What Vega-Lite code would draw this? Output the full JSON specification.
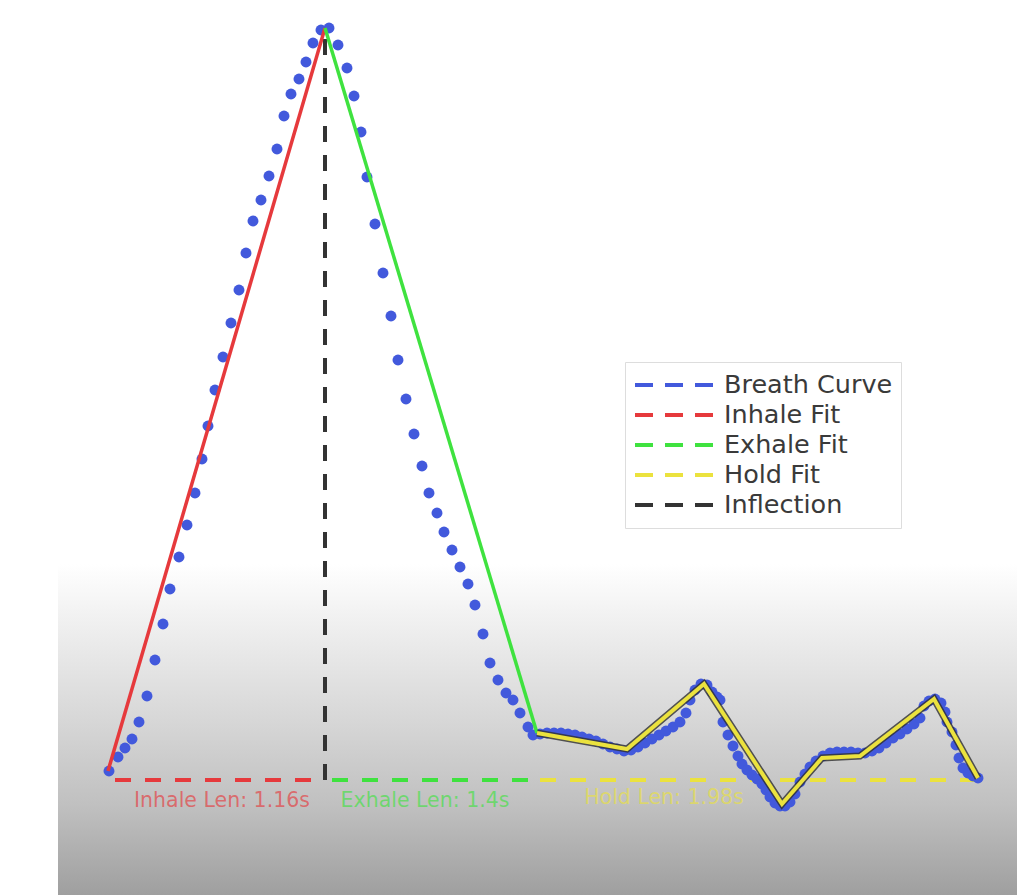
{
  "$schema": "https://vega.github.io/schema/vega-lite/v6.json",
  "width": 959,
  "height": 895,
  "padding": {"left": 58, "right": 12, "top": 0, "bottom": 0},
  "autosize": {"type": "none"},
  "background": "white",
  "view": {
    "stroke": null,
    "fill": {
      "gradient": "linear", "x1": 0, "y1": 0, "x2": 0, "y2": 1,
      "stops": [
        {"offset": 0, "color": "#ffffff"},
        {"offset": 0.63, "color": "#ffffff"},
        {"offset": 0.69, "color": "#f1f1f1"},
        {"offset": 0.8, "color": "#d8d8d8"},
        {"offset": 0.9, "color": "#c0c0c0"},
        {"offset": 1, "color": "#9f9f9f"}
      ]
    }
  },
  "datasets": {
    "dots": [
      {"t":109,"v":124},{"t":118,"v":138},{"t":125,"v":147},{"t":132,"v":156},{"t":139,"v":173},
      {"t":147,"v":199},{"t":155,"v":235},{"t":163,"v":271},{"t":170,"v":306},{"t":179,"v":338},
      {"t":187,"v":370},{"t":195,"v":402},{"t":202,"v":436},{"t":208,"v":469},{"t":215,"v":505},
      {"t":223,"v":538},{"t":231,"v":572},{"t":239,"v":605},{"t":246,"v":642},{"t":253,"v":674},
      {"t":261,"v":695},{"t":269,"v":719},{"t":277,"v":746},{"t":284,"v":779},{"t":291,"v":801},
      {"t":299,"v":816},{"t":306,"v":833},{"t":313,"v":852},{"t":321,"v":865},{"t":329,"v":867},
      {"t":338,"v":850},{"t":347,"v":827},{"t":354,"v":799},{"t":361,"v":763},{"t":367,"v":718},
      {"t":375,"v":671},{"t":383,"v":622},{"t":391,"v":579},{"t":398,"v":535},{"t":406,"v":496},
      {"t":414,"v":461},{"t":422,"v":429},{"t":429,"v":402},{"t":437,"v":382},{"t":444,"v":363},
      {"t":452,"v":345},{"t":460,"v":328},{"t":468,"v":311},{"t":475,"v":290},{"t":483,"v":261},
      {"t":490,"v":232},{"t":498,"v":215},{"t":506,"v":202},{"t":513,"v":195},{"t":520,"v":182},
      {"t":528,"v":168},{"t":533,"v":160},{"t":540,"v":161},{"t":547,"v":162},{"t":554,"v":162},
      {"t":561,"v":162},{"t":568,"v":161},{"t":575,"v":160},{"t":582,"v":158},{"t":589,"v":156},
      {"t":596,"v":154},{"t":603,"v":151},{"t":610,"v":148},{"t":617,"v":146},{"t":624,"v":144},
      {"t":631,"v":145},{"t":638,"v":148},{"t":645,"v":152},{"t":652,"v":156},{"t":659,"v":160},
      {"t":666,"v":164},{"t":673,"v":168},{"t":680,"v":173},{"t":686,"v":182},{"t":690,"v":195},
      {"t":695,"v":205},{"t":701,"v":211},{"t":707,"v":210},{"t":712,"v":203},{"t":717,"v":198},
      {"t":720,"v":195},{"t":723,"v":173},{"t":728,"v":160},{"t":733,"v":149},{"t":738,"v":139},
      {"t":742,"v":131},{"t":747,"v":125},{"t":752,"v":120},{"t":757,"v":116},{"t":762,"v":111},
      {"t":766,"v":105},{"t":770,"v":98},{"t":775,"v":92},{"t":780,"v":89},{"t":785,"v":89},
      {"t":790,"v":93},{"t":795,"v":101},{"t":800,"v":113},{"t":805,"v":121},{"t":810,"v":128},
      {"t":816,"v":134},{"t":823,"v":139},{"t":830,"v":142},{"t":837,"v":143},{"t":844,"v":143},
      {"t":851,"v":143},{"t":858,"v":142},{"t":865,"v":142},{"t":872,"v":144},{"t":879,"v":147},
      {"t":886,"v":152},{"t":893,"v":157},{"t":900,"v":161},{"t":907,"v":166},{"t":914,"v":171},
      {"t":920,"v":177},{"t":924,"v":189},{"t":929,"v":194},{"t":935,"v":196},{"t":941,"v":192},
      {"t":945,"v":183},{"t":947,"v":173},{"t":952,"v":163},{"t":956,"v":150},{"t":959,"v":137},
      {"t":963,"v":127},{"t":968,"v":122},{"t":973,"v":119},{"t":978,"v":117}
    ],
    "fits": [
      {"series":"Inhale Fit","t":108,"v":124},{"series":"Inhale Fit","t":325,"v":867},
      {"series":"Exhale Fit","t":325,"v":867},{"series":"Exhale Fit","t":537,"v":162}
    ],
    "hold": [
      {"series":"Hold Fit","t":537,"v":162},{"series":"Hold Fit","t":627,"v":146},
      {"series":"Hold Fit","t":704,"v":211},{"series":"Hold Fit","t":782,"v":91},
      {"series":"Hold Fit","t":822,"v":137},{"series":"Hold Fit","t":860,"v":139},
      {"series":"Hold Fit","t":934,"v":196},{"series":"Hold Fit","t":978,"v":117}
    ],
    "inflection": [
      {"series":"Inflection","t":325,"v":115,"v2":867}
    ],
    "lens": [
      {"series":"Inhale Fit","t":115,"t2":322,"v":115,"tm":222,"vm":94,"label":"Inhale Len: 1.16s"},
      {"series":"Exhale Fit","t":332,"t2":535,"v":115,"tm":425,"vm":94,"label":"Exhale Len: 1.4s"},
      {"series":"Hold Fit","t":540,"t2":982,"v":115,"tm":664,"vm":97,"label":"Hold Len: 1.98s"}
    ]
  },
  "layer": [
    {
      "data": {"name": "lens"},
      "mark": {"type": "rule", "strokeDash": [16, 14], "strokeWidth": 4},
      "encoding": {
        "x": {"field": "t", "type": "quantitative", "scale": {"domain": [58, 1017], "zero": false, "nice": false}, "axis": null},
        "x2": {"field": "t2"},
        "y": {"field": "v", "type": "quantitative", "scale": {"domain": [0, 895], "zero": false, "nice": false}, "axis": null},
        "color": {
          "field": "series", "type": "nominal",
          "scale": {
            "domain": ["Breath Curve", "Inhale Fit", "Exhale Fit", "Hold Fit", "Inflection"],
            "range": ["#4259dc", "#e6393c", "#3fe23f", "#ebe23e", "#333333"]
          },
          "legend": {
            "title": null, "orient": "none", "legendX": 567, "legendY": 362,
            "symbolType": "stroke", "symbolSize": 6084, "symbolStrokeWidth": 4,
            "symbolDash": [18, 12], "symbolOpacity": 1,
            "labelFont": "DejaVu Sans", "labelFontSize": 25.5, "labelColor": "#3a3a3a",
            "labelOffset": 9, "labelLimit": 400,
            "fillColor": "white", "strokeColor": "#dddddd", "padding": 8,
            "clipHeight": 30, "rowPadding": 0
          }
        }
      }
    },
    {
      "data": {"name": "inflection"},
      "mark": {"type": "rule", "strokeDash": [16, 13], "strokeWidth": 4},
      "encoding": {
        "x": {"field": "t", "type": "quantitative", "scale": {"domain": [58, 1017], "zero": false, "nice": false}, "axis": null},
        "y": {"field": "v", "type": "quantitative", "scale": {"domain": [0, 895], "zero": false, "nice": false}, "axis": null},
        "y2": {"field": "v2"},
        "color": {"field": "series", "type": "nominal"}
      }
    },
    {
      "data": {"name": "dots"},
      "mark": {"type": "point", "filled": true, "size": 120, "opacity": 1, "color": "#4259dc"},
      "encoding": {
        "x": {"field": "t", "type": "quantitative", "scale": {"domain": [58, 1017], "zero": false, "nice": false}, "axis": null},
        "y": {"field": "v", "type": "quantitative", "scale": {"domain": [0, 895], "zero": false, "nice": false}, "axis": null}
      }
    },
    {
      "data": {"name": "fits"},
      "mark": {"type": "line", "strokeWidth": 3.5},
      "encoding": {
        "x": {"field": "t", "type": "quantitative", "scale": {"domain": [58, 1017], "zero": false, "nice": false}, "axis": null},
        "y": {"field": "v", "type": "quantitative", "scale": {"domain": [0, 895], "zero": false, "nice": false}, "axis": null},
        "color": {"field": "series", "type": "nominal"}
      }
    },
    {
      "data": {"name": "hold"},
      "mark": {"type": "line", "strokeWidth": 7, "color": "#2f2f2f", "opacity": 0.8},
      "encoding": {
        "x": {"field": "t", "type": "quantitative", "scale": {"domain": [58, 1017], "zero": false, "nice": false}, "axis": null},
        "y": {"field": "v", "type": "quantitative", "scale": {"domain": [0, 895], "zero": false, "nice": false}, "axis": null}
      }
    },
    {
      "data": {"name": "hold"},
      "mark": {"type": "line", "strokeWidth": 4},
      "encoding": {
        "x": {"field": "t", "type": "quantitative", "scale": {"domain": [58, 1017], "zero": false, "nice": false}, "axis": null},
        "y": {"field": "v", "type": "quantitative", "scale": {"domain": [0, 895], "zero": false, "nice": false}, "axis": null},
        "color": {"field": "series", "type": "nominal"}
      }
    },
    {
      "data": {"name": "lens"},
      "mark": {"type": "text", "font": "DejaVu Sans", "fontSize": 20.5, "fillOpacity": 0.65, "baseline": "middle", "align": "center"},
      "encoding": {
        "x": {"field": "tm", "type": "quantitative", "scale": {"domain": [58, 1017], "zero": false, "nice": false}, "axis": null},
        "y": {"field": "vm", "type": "quantitative", "scale": {"domain": [0, 895], "zero": false, "nice": false}, "axis": null},
        "text": {"field": "label"},
        "color": {"field": "series", "type": "nominal"}
      }
    }
  ]
}
